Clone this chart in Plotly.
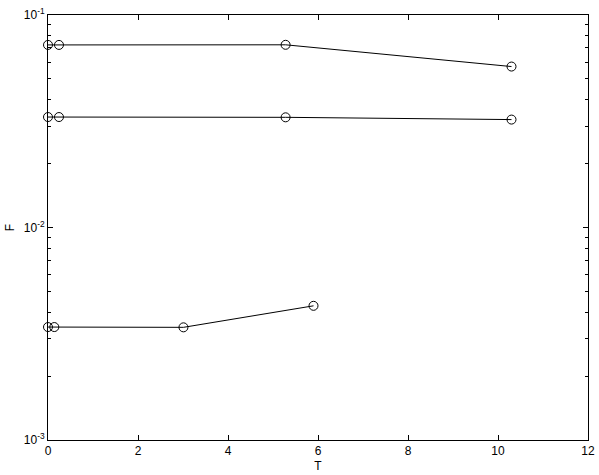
import plotly.graph_objects as go

# three runs
t_a = [0, 0.244, 5.28, 10.30]
f_a = [0.0723, 0.0723, 0.0724, 0.0572]

t_b = [0, 0.244, 5.28, 10.30]
f_b = [0.0331, 0.0331, 0.0330, 0.0322]

t_c = [0, 0.14, 3.01, 5.9]
f_c = [0.00340, 0.00340, 0.00339, 0.00428]

x_ticks = [0, 2, 4, 6, 8, 10, 12]
y_ticks = [0.001, 0.01, 0.1]
y_labels = ['10<sup>-3</sup>', '10<sup>-2</sup>', '10<sup>-1</sup>']

fig = go.Figure()
for t, f in [(t_a, f_a), (t_b, f_b), (t_c, f_c)]:
    fig.add_trace(go.Scatter(
        x=t, y=f, mode='lines+markers', cliponaxis=False,
        line=dict(color='black', width=1),
        marker=dict(symbol='circle-open', size=9, color='black', line=dict(width=1)),
        showlegend=False, hoverinfo='skip'))

axis_style = dict(showgrid=False, zeroline=False, showline=True, linecolor='black', linewidth=1,
                  mirror='ticks', ticks='inside', tickcolor='black', ticklen=5, automargin=False,
                  tickfont=dict(size=12, color='black'))

fig.update_layout(
    width=599, height=475,
    paper_bgcolor='white', plot_bgcolor='white',
    font=dict(family='Liberation Sans, Arial, sans-serif', size=12, color='black'),
    margin=dict(l=48, r=11, t=15, b=35),
    xaxis=dict(range=[0, 12], tickvals=x_ticks,
               title=dict(text='T', standoff=4, font=dict(size=12, color='black')), **axis_style),
    yaxis=dict(type='log', range=[-3, -1], tickvals=y_ticks, ticktext=y_labels,
               minor=dict(ticks='inside', ticklen=3, tickcolor='black', dtick='D1', showgrid=False),
               title=dict(text='F', standoff=6, font=dict(size=12, color='black')), **axis_style),
)

# page body has a default 8px margin, drop it so the figure sits at the corner
fig.write_html("out.html", config={'displayModeBar': False},
               post_script="document.body.style.margin='0px';")
